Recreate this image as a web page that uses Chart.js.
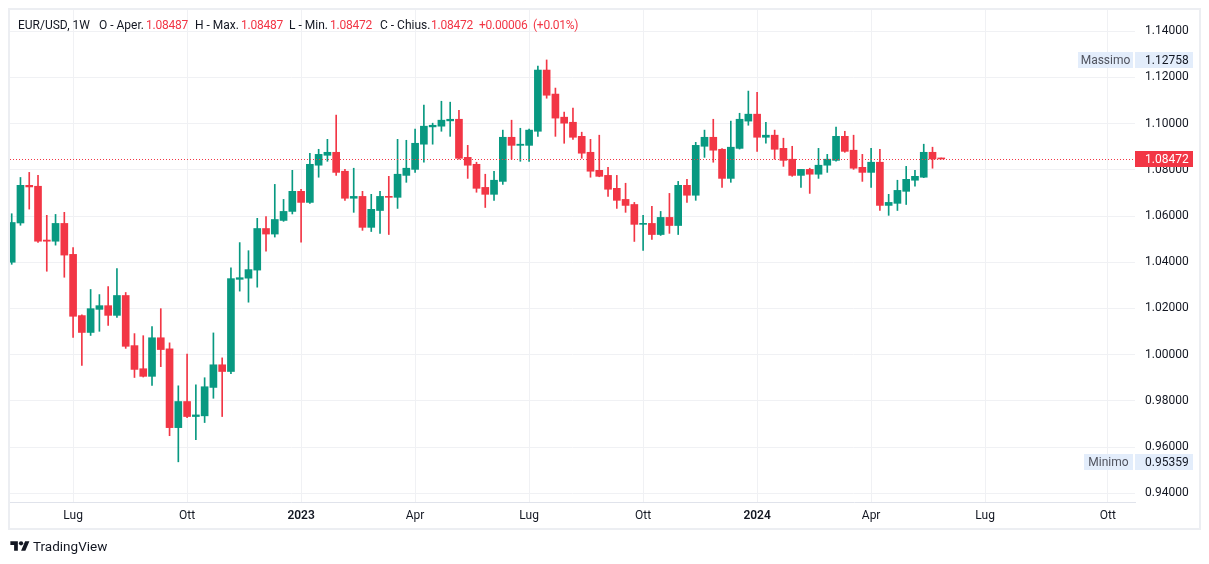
<!DOCTYPE html>
<html>
<head>
<meta charset="utf-8">
<script src="https://cdn.jsdelivr.net/npm/chart.js@4.4.1/dist/chart.umd.min.js"></script>
<style>
  html, body { margin: 0; padding: 0; background: #ffffff; }
  #wrap { position: relative; width: 1209px; height: 564px; overflow: hidden; background: #fff;
          font-family: Roboto, "Noto Sans", sans-serif; color: #131722; }
  #chart { position: absolute; left: 0; top: 0; }
  #frame { position: absolute; left: 8px; top: 8px; width: 1193px; height: 522px; box-sizing: border-box;
           border: 2px solid #eceef2; pointer-events: none; }
  .h { position: absolute; top: 17px; font-size: 12px; line-height: 16px; white-space: nowrap; color: #131722; }
  .v { color: #F23645; letter-spacing: -0.25px; }
  #logo { position: absolute; left: 10px; top: 538px; height: 16px; display: flex; align-items: center; }
  #logo span { font-size: 13.5px; color: #131722; margin-left: 3px; }
</style>
</head>
<body>
<div id="wrap">
  <canvas id="chart" width="1209" height="564"></canvas>
  <div id="frame"></div>
  <div class="h" style="left:18px">EUR/USD, 1W</div>
  <div class="h" style="left:99px">O - Aper.</div><div class="h v" style="left:146px">1.08487</div>
  <div class="h" style="left:195px">H - Max.</div><div class="h v" style="left:241px">1.08487</div>
  <div class="h" style="left:289px">L - Min.</div><div class="h v" style="left:330px">1.08472</div>
  <div class="h" style="left:380px">C - Chius.</div><div class="h v" style="left:431px">1.08472</div>
  <div class="h v" style="left:479px">+0.00006</div>
  <div class="h v" style="left:533px">(+0.01%)</div>
  <div id="logo">
    <svg width="20" height="15" viewBox="0 0 36 28"><path d="M14 22H7V11H0V4h14v18zM28 22h-8l7.5-18h8L28 22z" fill="#131722"/><circle cx="20" cy="8" r="4" fill="#131722"/></svg>
    <span>TradingView</span>
  </div>
</div>
<script>
// Weekly EUR/USD candles, week of 16 May 2022 (index 0) to week of 27 May 2024 (index 106)
const opens = [
  1.0400, 1.0570, 1.0733, 1.0729, 1.0496, 1.0491, 1.0568, 1.0434, 1.0169, 1.0096,
  1.0196, 1.0212, 1.0170, 1.0256, 1.0039, 0.9939, 0.9906, 1.0073, 1.0025, 0.9684,
  0.9797, 0.9732, 0.9735, 0.9858, 0.9956, 0.9927, 1.0326, 1.0331, 1.0366, 1.0546,
  1.0522, 1.0581, 1.0620, 1.0707, 1.0659, 1.0820, 1.0863, 1.0876, 1.0794, 1.0677,
  1.0685, 1.0551, 1.0624, 1.0685, 1.0681, 1.0776, 1.0802, 1.0911, 1.0986, 1.0989,
  1.1012, 1.1019, 1.0854, 1.0824, 1.0724, 1.0694, 1.0750, 1.0941, 1.0906, 1.0906,
  1.0967, 1.1232, 1.1128, 1.1028, 1.1006, 1.0945, 1.0876, 1.0798, 1.0776, 1.0720,
  1.0672, 1.0650, 1.0564, 1.0568, 1.0520, 1.0594, 1.0559, 1.0733, 1.0690, 1.0902,
  1.0941, 1.0889, 1.0763, 1.0893, 1.1011, 1.1041, 1.0941, 1.0950, 1.0893, 1.0846,
  1.0776, 1.0802, 1.0781, 1.0820, 1.0841, 1.0945, 1.0885, 1.0811, 1.0789, 1.0833,
  1.0646, 1.0655, 1.0707, 1.0755, 1.0768, 1.0876, 1.08487
];
const highs = [
  1.0610, 1.0767, 1.0789, 1.0776, 1.0603, 1.0607, 1.0616, 1.0463, 1.0172, 1.0282,
  1.0260, 1.0295, 1.0373, 1.0269, 1.0091, 1.0082, 1.0121, 1.0199, 1.0051, 0.9865,
  1.0002, 0.9869, 0.9900, 1.0094, 0.9986, 1.0376, 1.0485, 1.0450, 1.0590, 1.0598,
  1.0737, 1.0672, 1.0798, 1.0716, 1.0872, 1.0889, 1.0932, 1.1037, 1.0802, 1.0807,
  1.0707, 1.0694, 1.0707, 1.0772, 1.0932, 1.0928, 1.0976, 1.1080, 1.1002, 1.1097,
  1.1093, 1.1058, 1.0906, 1.0833, 1.0781, 1.0794, 1.0972, 1.1015, 1.0980, 1.0976,
  1.1249, 1.12758, 1.1154, 1.1050, 1.1067, 1.0963, 1.0932, 1.0950, 1.0811, 1.0776,
  1.0742, 1.0659, 1.0603, 1.0642, 1.0620, 1.0698, 1.0750, 1.0759, 1.0919, 1.0972,
  1.1019, 1.0892, 1.1011, 1.1045, 1.1141, 1.1136, 1.1006, 1.0972, 1.0937, 1.0902,
  1.0802, 1.0807, 1.0893, 1.0867, 1.0985, 1.0967, 1.0950, 1.0867, 1.0893, 1.0889,
  1.0694, 1.0755, 1.0815, 1.0798, 1.0911, 1.0898, 1.08487
];
const lows = [
  1.0391, 1.0560, 1.0630, 1.0486, 1.0361, 1.0474, 1.0335, 1.0075, 0.9953, 1.0083,
  1.0101, 1.0127, 1.0161, 1.0027, 0.9901, 0.9903, 0.9867, 0.9948, 0.9649, 0.95359,
  0.9727, 0.9632, 0.9706, 0.9811, 0.9732, 0.9918, 1.0275, 1.0227, 1.0292, 1.0448,
  1.0509, 1.0577, 1.0609, 1.0487, 1.0655, 1.0768, 1.0837, 1.0776, 1.0668, 1.0616,
  1.0538, 1.0533, 1.0525, 1.0520, 1.0633, 1.0746, 1.0789, 1.0833, 1.0911, 1.0967,
  1.0945, 1.0846, 1.0763, 1.0703, 1.0637, 1.0668, 1.0737, 1.0846, 1.0837, 1.0837,
  1.0945, 1.1110, 1.0945, 1.0915, 1.0932, 1.0850, 1.0768, 1.0770, 1.0685, 1.0633,
  1.0616, 1.0490, 1.0451, 1.0499, 1.0516, 1.0525, 1.0520, 1.0659, 1.0668, 1.0854,
  1.0833, 1.0724, 1.0746, 1.0890, 1.0993, 1.0880, 1.0915, 1.0846, 1.0815, 1.0772,
  1.0724, 1.0698, 1.0763, 1.0789, 1.0838, 1.0876, 1.0802, 1.0750, 1.0724, 1.0624,
  1.0603, 1.0624, 1.0650, 1.0729, 1.0766, 1.0807, 1.08472
];
const closes = [
  1.0572, 1.0733, 1.0726, 1.0491, 1.0491, 1.0568, 1.0431, 1.0166, 1.0096, 1.0199,
  1.0212, 1.0170, 1.0256, 1.0036, 0.9936, 0.9906, 1.0073, 1.0022, 0.9684, 0.9797,
  0.9732, 0.9739, 0.9861, 0.9956, 0.9927, 1.0329, 1.0333, 1.0368, 1.0546, 1.0522,
  1.0585, 1.0620, 1.0707, 1.0659, 1.0824, 1.0867, 1.0876, 1.0789, 1.0677, 1.0685,
  1.0551, 1.0629, 1.0685, 1.0681, 1.0781, 1.0807, 1.0915, 1.0989, 1.0993, 1.1015,
  1.1019, 1.0850, 1.0820, 1.0720, 1.0694, 1.0755, 1.0941, 1.0906, 1.0911, 1.0972,
  1.1232, 1.1123, 1.1024, 1.1002, 1.0941, 1.0872, 1.0794, 1.0772, 1.0716, 1.0668,
  1.0646, 1.0564, 1.0568, 1.0520, 1.0594, 1.0559, 1.0733, 1.0690, 1.0906, 1.0941,
  1.0885, 1.0763, 1.0898, 1.1019, 1.1041, 1.0941, 1.0950, 1.0889, 1.0841, 1.0776,
  1.0802, 1.0781, 1.0820, 1.0846, 1.0945, 1.0880, 1.0807, 1.0789, 1.0833, 1.0646,
  1.0659, 1.0711, 1.0759, 1.0772, 1.0876, 1.0847, 1.08472
];
const priceTicks = [0.94, 0.96, 0.98, 1.00, 1.02, 1.04, 1.06, 1.08, 1.10, 1.12, 1.14];
const timeTickIdx = [7, 20, 33, 46, 59, 72, 85, 98, 111, 125];
const timeTickLabels = ['Lug', 'Ott', '2023', 'Apr', 'Lug', 'Ott', '2024', 'Apr', 'Lug', 'Ott'];
const yearLabels = ['2023', '2024'];
const maxPrice = 1.12758;
const minPrice = 0.95359;
const lastPrice = 1.08472;
const maxLabel = 'Massimo';
const minLabel = 'Minimo';

const UP = '#089981', DOWN = '#F23645';
const colorAt = i => (closes[i] >= opens[i] ? UP : DOWN);
const FONT = 'Roboto, "Noto Sans", sans-serif';

const overlay = {
  id: 'overlay',
  afterDatasetsDraw(chart) {
    const { ctx, chartArea, scales } = chart;
    const y = Math.round(scales.y.getPixelForValue(lastPrice)) + 0.5;
    ctx.save();
    ctx.globalAlpha = 1;
    ctx.strokeStyle = DOWN;
    ctx.lineWidth = 1;
    ctx.lineCap = 'butt';
    ctx.setLineDash([1, 2]);
    ctx.beginPath();
    ctx.moveTo(chartArea.left, y);
    ctx.lineTo(chartArea.right, y);
    ctx.stroke();
    ctx.restore();
  },
  afterDraw(chart) {
    const { ctx, chartArea, scales } = chart;
    const x0 = chartArea.right;
    const w = 58, h = 16;
    ctx.save();
    ctx.font = '12px ' + FONT;
    ctx.textBaseline = 'middle';
    const tag = (val, label, bg, fg, lblW) => {
      const yc = Math.round(scales.y.getPixelForValue(val));
      ctx.fillStyle = bg;
      ctx.fillRect(x0, yc - h / 2, w, h);
      ctx.fillStyle = fg;
      ctx.textAlign = 'left';
      ctx.fillText(val.toFixed(5), x0 + 10, yc + 0.5);
      if (label) {
        ctx.fillStyle = '#e3edfb';
        ctx.fillRect(x0 - 2 - lblW, yc - h / 2, lblW, h);
        ctx.fillStyle = '#50535e';
        ctx.textAlign = 'center';
        ctx.fillText(label, x0 - 2 - lblW / 2, yc + 0.5);
      }
    };
    tag(maxPrice, maxLabel, '#e3edfb', '#131722', 55);
    tag(minPrice, minLabel, '#e3edfb', '#131722', 49);
    tag(lastPrice, null, DOWN, '#ffffff', 0);
    ctx.restore();
  }
};

new Chart(document.getElementById('chart'), {
  type: 'bar',
  data: {
    datasets: [
      {
        label: 'body',
        data: opens.map((o, i) => ({ x: i, y: [o, closes[i]] })),
        backgroundColor: ctx => colorAt(ctx.dataIndex),
        barThickness: 7,
        minBarLength: 1,
        borderWidth: 0,
        grouped: false
      },
      {
        label: 'wick',
        data: opens.map((o, i) => ({ x: i, y: [lows[i], highs[i]] })),
        backgroundColor: ctx => colorAt(ctx.dataIndex),
        barThickness: 1,
        minBarLength: 1,
        borderWidth: 0,
        grouped: false
      }
    ]
  },
  options: {
    responsive: false,
    animation: false,
    devicePixelRatio: 1,
    layout: { padding: { left: 10, top: 10, right: 10, bottom: 34 } },
    plugins: { legend: { display: false }, tooltip: { enabled: false } },
    scales: {
      x: {
        type: 'linear',
        offset: false,
        min: -0.194,
        max: 128.09,
        afterBuildTicks: axis => { axis.ticks = timeTickIdx.map(v => ({ value: v })); },
        afterFit: axis => { axis.height = 28; axis.paddingLeft = 0; axis.paddingRight = 0; },
        ticks: {
          autoSkip: false,
          maxRotation: 0,
          padding: 7,
          color: '#131722',
          font: c => ({ family: FONT, size: 12, weight: (c.tick && yearLabels.includes(timeTickLabels[timeTickIdx.indexOf(c.tick.value)])) ? '600' : '400' }),
          callback: (v, i) => timeTickLabels[i]
        },
        grid: { color: '#f0f1f4', drawTicks: false, offset: false },
        border: { display: true, color: '#e0e3eb' }
      },
      y: {
        type: 'linear',
        position: 'right',
        min: 0.9362,
        max: 1.1492,
        afterBuildTicks: axis => { axis.ticks = priceTicks.map(v => ({ value: v })); },
        afterFit: axis => { axis.width = 64; axis.paddingTop = 0; axis.paddingBottom = 0; },
        ticks: {
          padding: 10,
          color: '#131722',
          font: { family: FONT, size: 12 },
          callback: v => Number(v).toFixed(5)
        },
        grid: { color: '#f0f1f4', drawTicks: false },
        border: { display: false }
      }
    }
  },
  plugins: [overlay]
});
</script>
</body>
</html>
